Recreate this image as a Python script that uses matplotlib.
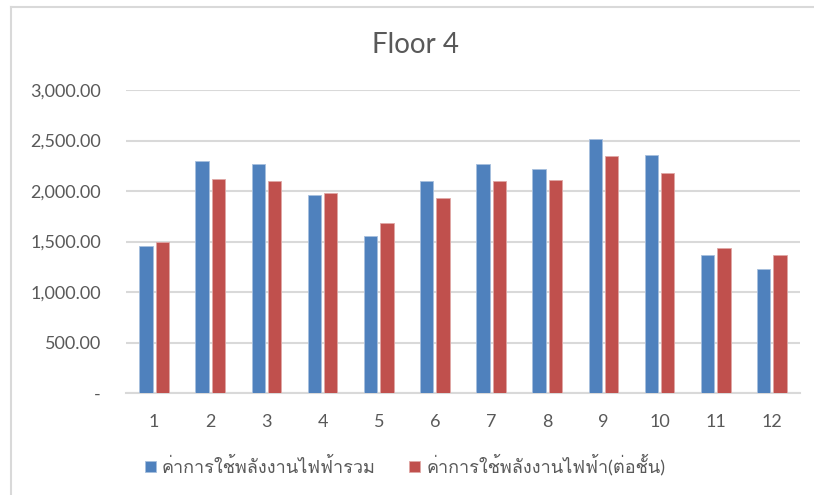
import numpy as np
import matplotlib as mpl
mpl.use('Agg')
import matplotlib.pyplot as plt
from matplotlib import font_manager
from matplotlib.ft2font import FT2Font
from matplotlib.lines import Line2D

# data
months = ["1", "2", "3", "4", "5", "6", "7", "8", "9", "10", "11", "12"]
total = [1455, 2299, 2269, 1956, 1551, 2095, 2269, 2213, 2513, 2355, 1370, 1232]
per_floor = [1498, 2118, 2095, 1979, 1680, 1927, 2095, 2108, 2345, 2174, 1436, 1370]
labels = ["ค่าการใช้พลังงานไฟฟ้ารวม", "ค่าการใช้พลังงานไฟฟ้า(ต่อชั้น)"]
title = "Floor 4"

# find a font that has Thai glyphs
thai = None
for f in font_manager.fontManager.ttflist:
    try:
        if 0x0E04 in FT2Font(f.fname).get_charmap():
            thai = f.name
            break
    except Exception:
        pass
fams = ["Lato"] + ([thai] if thai else []) + ["DejaVu Sans"]
plt.rcParams['font.family'] = fams

txt = "#595959"
grid = "#D9D9D9"
colors = ["#4F81BD", "#C0504D"]

fig = plt.figure(figsize=(8.14, 4.95), dpi=100)
ax = fig.add_axes([126/814, 1-393/495, (800-126)/814, (393-90)/495])

x = np.arange(len(months))
w = 0.237
off = 0.146
ax.bar(x - off, total, w, color=colors[0], edgecolor="#A7BFDE", linewidth=0.6, label=labels[0], zorder=3)
ax.bar(x + off, per_floor, w, color=colors[1], edgecolor="#E0A7A6", linewidth=0.6, label=labels[1], zorder=3)

ax.set_xlim(-0.5, len(months) - 0.5)
ax.set_ylim(0, 3000)
ax.set_yticks(np.arange(0, 3001, 500))
ax.set_yticklabels(["-" if v == 0 else "{:,.2f}".format(v) for v in np.arange(0, 3001, 500)])
ax.set_xticks(x)
ax.set_xticklabels(months)
ax.yaxis.grid(True, color=grid, linewidth=1.5, zorder=0)
for s in ["top", "right", "left"]:
    ax.spines[s].set_visible(False)
ax.spines["bottom"].set_color(grid)
ax.spines["bottom"].set_linewidth(1.5)
ax.tick_params(axis="both", length=0, colors=txt, labelsize=13)
ax.tick_params(axis="y", pad=18)
ax.tick_params(axis="x", pad=15)

fig.text(416/814, 1-45/495, title, ha="center", va="center", fontsize=20, color=txt)

fig.legend(loc="center", bbox_to_anchor=(405/814, 1-465/495), ncol=2, frameon=False,
           fontsize=13, labelcolor=txt, handlelength=0.6, handleheight=0.6,
           handletextpad=0.35, columnspacing=1.85)

# chart border
fig.add_artist(Line2D([11/814, 1], [1-7/495, 1-7/495], color="#D9D9D9", linewidth=1.5, transform=fig.transFigure))
fig.add_artist(Line2D([11/814, 11/814], [0, 1-7/495], color="#D9D9D9", linewidth=1.5, transform=fig.transFigure))

fig.savefig("out.png", dpi=100)
